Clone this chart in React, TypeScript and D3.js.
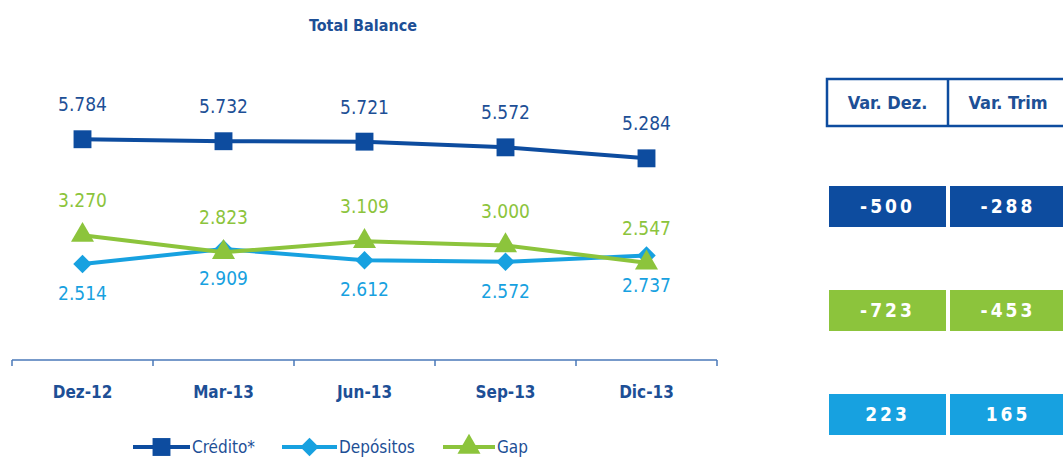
import React from "react"
import * as d3 from "d3"

const width = 1063
const height = 457

const categories = ["Dez-12", "Mar-13", "Jun-13", "Sep-13", "Dic-13"]
const credito = [5784, 5732, 5721, 5572, 5284]
const depositos = [2514, 2909, 2612, 2572, 2737]
const gap = [3270, 2823, 3109, 3000, 2547]

const tableHeaders = ["Var. Dez.", "Var. Trim"]
const varCredito = ["-500", "-288"]
const varGap = ["-723", "-453"]
const varDepositos = ["223", "165"]

const DARK = "#0d4c9f"
const LIGHT = "#17a1e0"
const GREEN = "#8cc43c"
const TEXT_BLUE = "#1d4f96"

const font = "'Liberation Sans Narrow', 'DejaVu Sans Condensed', 'Open Sans', sans-serif"

const fmt = (v: number) => (v / 1000).toFixed(3)

export default function App() {
  const x = d3.scaleBand().domain(categories).range([12, 717])
  const y = d3.scaleLinear().domain([0, 6000]).range([360, 131])
  const cx = (c: string) => (x(c) as number) + x.bandwidth() / 2

  const line = d3
    .line<number>()
    .x((_, i) => cx(categories[i]))
    .y(d => y(d))

  const square = d3.symbol().type(d3.symbolSquare).size(320)
  const diamond = d3.symbol().type(d3.symbolSquare).size(170)
  const triangle = d3.symbol().type(d3.symbolTriangle).size(230)

  const series = [
    { name: "Crédito*", values: credito, color: DARK, sym: square, rot: 0, labelDy: -28, labelColor: TEXT_BLUE },
    { name: "Depósitos", values: depositos, color: LIGHT, sym: diamond, rot: 45, labelDy: 36, labelColor: LIGHT },
    { name: "Gap", values: gap, color: GREEN, sym: triangle, rot: 0, labelDy: -28, labelColor: GREEN },
  ]

  const ticks = x.domain().map(c => x(c) as number).concat([717])

  const legend = [
    { s: series[0], x1: 133, x2: 190 },
    { s: series[1], x1: 282, x2: 337 },
    { s: series[2], x1: 443, x2: 495 },
  ]

  const rows = [
    { values: varCredito, color: DARK, y: 186 },
    { values: varGap, color: GREEN, y: 290 },
    { values: varDepositos, color: LIGHT, y: 394 },
  ]
  const cellX = [829, 950]
  const cellW = [117, 116]

  return (
    <div style={{ position: "absolute", left: 0, top: 0 }}>
      <svg width={width} height={height} style={{ display: "block", fontFamily: font }}>
        <rect width={width} height={height} fill="#fff" />
        <text x={363} y={31} textAnchor="middle" fontSize={16} fontWeight="bold" fill={TEXT_BLUE}>
          Total Balance
        </text>

        {/* axis */}
        <line x1={12} x2={717} y1={360} y2={360} stroke="#4a78b8" strokeWidth={1.5} />
        {ticks.map((t, i) => (
          <line key={i} x1={t} x2={t} y1={360} y2={366} stroke="#4a78b8" strokeWidth={1.5} />
        ))}
        {categories.map(c => (
          <text key={c} x={cx(c)} y={398} textAnchor="middle" fontSize={17} fontWeight="bold" fill={TEXT_BLUE}>
            {c}
          </text>
        ))}

        {series.map(s => (
          <g key={s.name}>
            <path d={line(s.values) as string} fill="none" stroke={s.color} strokeWidth={4} />
            {s.values.map((v, i) => (
              <path
                key={i}
                d={s.sym() as string}
                transform={`translate(${cx(categories[i])},${y(v)}) rotate(${s.rot})`}
                fill={s.color}
              />
            ))}
          </g>
        ))}
        {series.map(s =>
          s.values.map((v, i) => (
            <text
              key={s.name + i}
              x={cx(categories[i])}
              y={y(v) + s.labelDy}
              textAnchor="middle"
              fontSize={19}
              fill={s.labelColor}
            >
              {fmt(v)}
            </text>
          ))
        )}

        {/* legend */}
        {legend.map(({ s, x1, x2 }) => (
          <g key={s.name}>
            <line x1={x1} x2={x2} y1={447} y2={447} stroke={s.color} strokeWidth={4} />
            <path
              d={s.sym() as string}
              transform={`translate(${(x1 + x2) / 2},447) rotate(${s.rot})`}
              fill={s.color}
            />
            <text x={x2 + 2} y={453} fontSize={17} fill={TEXT_BLUE}>
              {s.name}
            </text>
          </g>
        ))}

        {/* table */}
        <rect x={827} y={79} width={260} height={47} fill="#fff" stroke={DARK} strokeWidth={2.5} />
        <line x1={948} x2={948} y1={79} y2={126} stroke={DARK} strokeWidth={2.5} />
        {tableHeaders.map((h, i) => (
          <text
            key={h}
            x={cellX[i] + cellW[i] / 2}
            y={109}
            textAnchor="middle"
            fontSize={18}
            fontWeight="bold"
            fill={TEXT_BLUE}
          >
            {h}
          </text>
        ))}
        {rows.map((r, ri) =>
          r.values.map((v, i) => (
            <g key={ri + "-" + i}>
              <rect x={cellX[i]} y={r.y} width={cellW[i]} height={41} fill={r.color} />
              <text
                x={cellX[i] + cellW[i] / 2}
                y={r.y + 27}
                textAnchor="middle"
                fontSize={19}
                fontWeight="bold"
                letterSpacing={3}
                fill="#fff"
              >
                {v}
              </text>
            </g>
          ))
        )}
      </svg>
    </div>
  )
}
